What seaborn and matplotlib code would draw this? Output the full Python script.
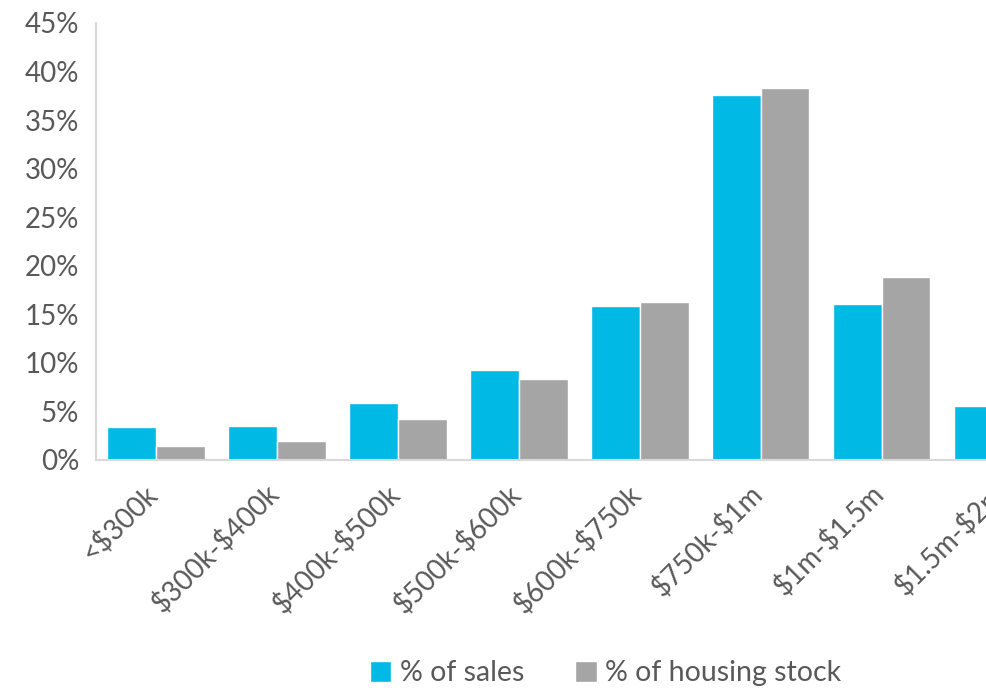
import matplotlib.pyplot as plt
import matplotlib.ticker as mtick
import matplotlib.transforms as mtrans
import pandas as pd
import seaborn as sns

# price bands (the last one is cut off at the right edge in the original)
bands = ["<$300k", "$300k-$400k", "$400k-$500k", "$500k-$600k",
         "$600k-$750k", "$750k-$1m", "$1m-$1.5m", "$1.5m-$2m"]
pct_sales = [3.4, 3.5, 5.9, 9.3, 15.9, 37.6, 16.1, 5.6]
pct_stock = [1.4, 2.0, 4.2, 8.3, 16.3, 38.3, 18.8, 6.5]
series_names = ["% of sales", "% of housing stock"]
y_ticks = [0, 5, 10, 15, 20, 25, 30, 35, 40, 45]

df = pd.DataFrame({
    "band": bands * 2,
    "value": pct_sales + pct_stock,
    "series": [series_names[0]] * len(bands) + [series_names[1]] * len(bands),
})

sns.set_style("white")
plt.rcParams["font.family"] = ["Lato", "DejaVu Sans"]

txt = "#595959"
grid = "#D9D9D9"

fig = plt.figure(figsize=(9.86, 6.92), dpi=100)
# axes runs past the right edge, like the cropped original
ax = fig.add_axes([0.0971, 0.3353, 0.981, 0.6315])

sns.barplot(data=df, x="band", y="value", hue="series", order=bands,
            hue_order=series_names, palette=["#00B9E4", "#A5A5A5"],
            width=0.806, saturation=1, ax=ax, legend=True)

ax.set_xlim(-0.5, len(bands) - 0.5)
ax.set_ylim(0, 45)
ax.set_yticks(y_ticks)
ax.yaxis.set_major_formatter(mtick.FuncFormatter(lambda v, p: f"{v:.0f}%"))
ax.set_xlabel("")
ax.set_ylabel("")

for s in ["top", "right"]:
    ax.spines[s].set_visible(False)
for s in ["left", "bottom"]:
    ax.spines[s].set_color(grid)
    ax.spines[s].set_linewidth(1.5)

# tick marks sit between the categories
ax.set_xticks([i - 0.5 for i in range(len(bands) + 1)], minor=True)
ax.tick_params(axis="x", which="minor", length=8, width=1.5, color=grid, direction="out")
ax.tick_params(axis="x", which="major", length=0, pad=14)
ax.tick_params(axis="y", length=8, width=1.5, color=grid, labelsize=20,
               labelcolor=txt, pad=4)
ax.set_xticks(range(len(bands)))
ax.set_xticklabels([b.replace("$", r"\$") for b in bands], rotation=45,
                   ha="right", va="top", fontsize=20, color=txt)
shift = mtrans.ScaledTranslation(0.07, 0, fig.dpi_scale_trans)
for lab in ax.get_xticklabels():
    lab.set_transform(lab.get_transform() + shift)

leg = ax.legend(loc="center", bbox_to_anchor=(0.614, 0.027),
                bbox_transform=fig.transFigure, ncol=2, frameon=False,
                fontsize=20.5, handlelength=0.75, handleheight=0.75,
                handletextpad=0.3, columnspacing=1.8)
for t in leg.get_texts():
    t.set_color(txt)

plt.savefig("out.png", dpi=100)
